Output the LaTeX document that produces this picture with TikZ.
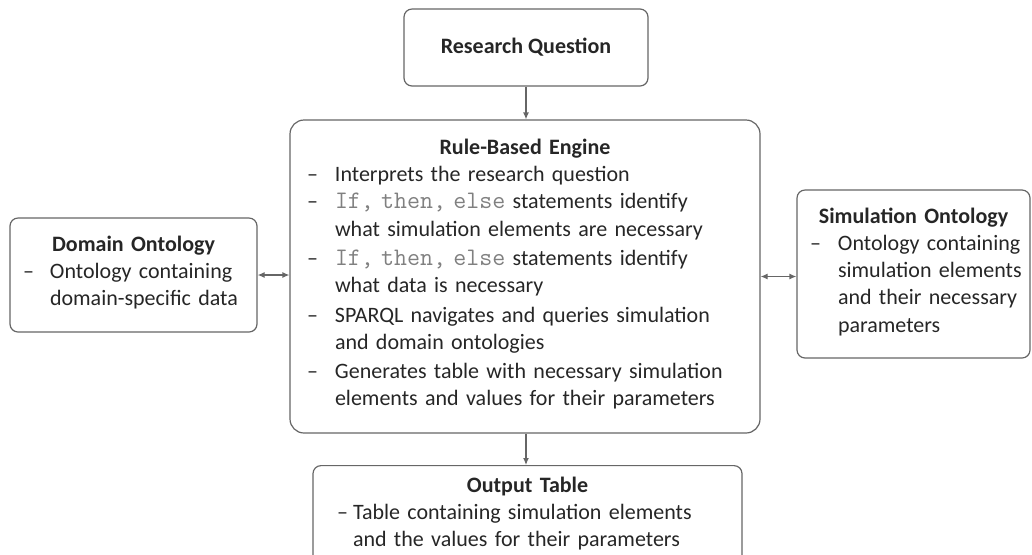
\documentclass[tikz,border=0pt]{standalone}
\usepackage{fontspec}
\setmainfont{Carlito}
\usetikzlibrary{arrows.meta}

\def\questionpos{(526,47.5)}
\def\enginepos{(525,276.5)}
\def\domainpos{(133.5,275)}
\def\simulationpos{(913.5,274)}
\def\outputpos{(527.5,465)}
\colorlet{box edge}{black!60}
\colorlet{box text}{black!85}
\colorlet{code text}{black!50}
\newcommand{\boxtitle}[1]{{\centering\bfseries #1\par}}
\newcommand{\dashitem}[2][14pt]{\noindent\makebox[#1][l]{--}\begin{tabular}[t]{@{}l@{}}#2\end{tabular}\par}
\newcommand{\code}[1]{{\fontsize{12.6}{13.65}\ttfamily\color{code text}#1}}
\tikzset{
  block/.style={draw=box edge, line width=0.6pt, rounded corners=4pt, text=box text,
    font=\fontsize{11}{13.65}\selectfont, inner ysep=0pt},
  flow/.style={draw=box edge, line width=0.6pt, -{Latex[length=3.5pt,width=3pt]}},
  link/.style={draw=box edge, line width=0.6pt,
    {Latex[length=3.5pt,width=3pt]}-{Latex[length=3.5pt,width=3pt]}}
}

\begin{document}
\begin{tikzpicture}[x=0.5pt, y=-0.5pt]
  \useasboundingbox (0,0) rectangle (1032,554);
  \clip (0,0) rectangle (1032,554);

  \node[block, minimum width=122pt, minimum height=38.5pt] (question) at \questionpos
    {\bfseries Research Question};

  \node[block, rounded corners=7pt, minimum width=235pt, minimum height=156.5pt,
    inner xsep=8.5pt, text width=218pt] (engine) at \enginepos {%
    \boxtitle{Rule-Based Engine}%
    \dashitem{Interprets the research question}%
    \dashitem{\code{If, then, else} statements identify\\what simulation elements are necessary}%
    \dashitem{\code{If, then, else} statements identify\\what data is necessary}%
    \dashitem{SPARQL navigates and queries simulation\\and domain ontologies}%
    \dashitem{Generates table with necessary simulation\\elements and values for their parameters}};

  \node[block, minimum width=123.5pt, minimum height=57pt,
    inner xsep=6.5pt, text width=110.5pt] (domain) at \domainpos {%
    \boxtitle{Domain Ontology}%
    \dashitem[13.5pt]{Ontology containing\\domain-specific data}};

  \node[block, minimum width=116.5pt, minimum height=84pt,
    inner xsep=6.5pt, text width=103.5pt] (simulation) at \simulationpos {%
    \boxtitle{Simulation Ontology}%
    \dashitem{Ontology containing\\simulation elements\\and their necessary\\parameters}};

  \node[block, anchor=north, minimum width=214.5pt, inner xsep=12pt, inner ysep=5.5pt,
    text width=190.5pt] (output) at \outputpos {%
    \boxtitle{Output Table}%
    \dashitem[8pt]{Table containing simulation elements\\and the values for their parameters\rule[-20pt]{0pt}{20pt}}};

  \draw[flow] (question.south) -- (question.south |- engine.north);
  \draw[flow] (engine.south -| question.south) -- (question.south |- output.north);
  \draw[link] (domain.east) -- (domain.east -| engine.west);
  \draw[link] (engine.east) -- (engine.east -| simulation.west);
\end{tikzpicture}
\end{document}
